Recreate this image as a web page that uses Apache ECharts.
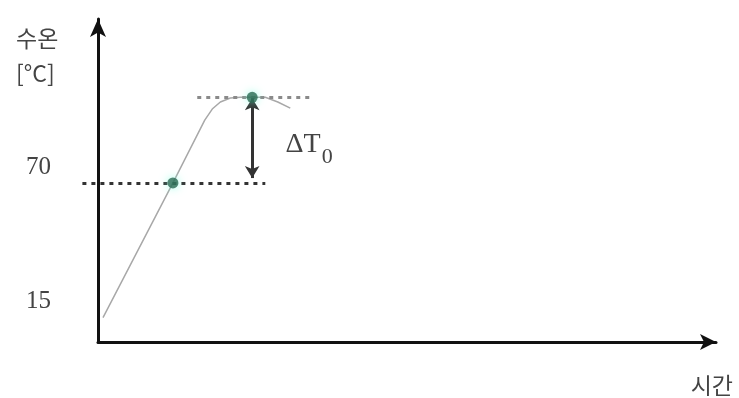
<!DOCTYPE html>
<html>
<head>
<meta charset="utf-8">
<script src="https://cdn.jsdelivr.net/npm/echarts@6/dist/echarts.min.js"></script>
<style>
  html, body { margin: 0; padding: 0; background: #fff; }
  #container { width: 739px; height: 398px; }
</style>
</head>
<body>
<div id="container"></div>
<script>
// curve: time (arbitrary units) vs water temperature
var curveTime = [0.8, 12, 17.1, 18.3, 19.6, 21.2, 22.8, 26.8, 28.8, 30.8];
var curveTemp = [15, 70, 95.7, 100.2, 103.1, 104.7, 105, 105, 103.1, 100.6];
// two marked points
var pointTime = [12, 24.7];
var pointTemp = [70, 105];
// y tick labels
var yTicks = [15, 70];
// dashed guide lines [x1, x2, y]
var guideLow = [-2.5, 26.8, 70];
var guideHigh = [15.9, 34.0, 105];
// delta arrow [x, yTop, yBottom]
var deltaArrow = [24.7, 104.6, 72];
var deltaLabelAt = [30.0, 85.5];

var yMin = 5, yMax = 137;

var curveData = [];
for (var i = 0; i < curveTime.length; i++) {
    curveData.push([curveTime[i], curveTemp[i]]);
}
var pointData = [];
for (var j = 0; j < pointTime.length; j++) {
    pointData.push([pointTime[j], pointTemp[j]]);
}

var dom = document.getElementById("container");
var myChart = echarts.init(dom);
var option = {
    animation: false,
    title: [
        {
            text: '수온\n[°C]',
            left: 11, top: 16,
            textStyle: { fontFamily: 'Noto Sans CJK KR', fontSize: 23, fontWeight: 'normal', color: '#444', lineHeight: 35 }
        },
        {
            text: '시간',
            right: 1, top: 366,
            textStyle: { fontFamily: 'Noto Sans CJK KR', fontSize: 23, fontWeight: 'normal', color: '#444', lineHeight: 28 }
        }
    ],
    grid: [
        { left: 82.4, right: 23, top: 19, bottom: 56 },
        { left: 98, right: 23, top: 19, bottom: 56 }
    ],
    xAxis: [
        { type: 'value', gridIndex: 0, min: -2.5, max: 99, show: false },
        {
            type: 'value', gridIndex: 1, min: 0, max: 99,
            axisLine: { show: true, onZero: false, symbol: ['none', 'arrow'], symbolSize: [12, 16], lineStyle: { color: '#111', width: 3 } },
            axisTick: { show: false }, axisLabel: { show: false }, splitLine: { show: false }
        }
    ],
    yAxis: [
        { type: 'value', gridIndex: 0, min: yMin, max: yMax, show: false },
        {
            type: 'value', gridIndex: 1, min: yMin, max: yMax,
            axisLine: { show: true, symbol: ['none', 'arrow'], symbolSize: [12, 18], lineStyle: { color: '#111', width: 3 } },
            axisTick: { show: false }, splitLine: { show: false },
            axisLabel: {
                customValues: yTicks,
                margin: 47,
                fontFamily: 'Liberation Serif', fontSize: 25, color: '#444',
                verticalAlign: 'bottom',
                lineHeight: 32
            }
        }
    ],
    series: [
        {
            name: 'curve',
            type: 'line',
            xAxisIndex: 0, yAxisIndex: 0,
            data: curveData,
            symbol: 'none',
            lineStyle: { color: '#a8a8a8', width: 1.5 },
            markLine: {
                silent: true,
                symbol: ['none', 'none'],
                label: { show: false },
                data: [
                    [
                        { coord: [guideLow[0], guideLow[2]], lineStyle: { color: '#333', width: 3, type: [4, 5] } },
                        { coord: [guideLow[1], guideLow[2]] }
                    ],
                    [
                        { coord: [guideHigh[0], guideHigh[2]], lineStyle: { color: '#8a8a8a', width: 3, type: [4, 5] } },
                        { coord: [guideHigh[1], guideHigh[2]] }
                    ]
                ]
            }
        },
        {
            name: 'points',
            type: 'scatter',
            xAxisIndex: 0, yAxisIndex: 0,
            data: pointData,
            symbolSize: 11,
            z: 5,
            itemStyle: { color: '#2b6a52', shadowColor: 'rgba(110,255,220,0.8)', shadowBlur: 8 },
            markLine: {
                silent: true,
                symbol: ['arrow', 'arrow'],
                symbolSize: [11, 12],
                label: { show: false },
                lineStyle: { color: '#333', width: 3, type: 'solid' },
                data: [
                    [
                        { coord: [deltaArrow[0], deltaArrow[1]] },
                        { coord: [deltaArrow[0], deltaArrow[2]] }
                    ]
                ]
            },
            markPoint: {
                silent: true,
                symbolSize: 1,
                itemStyle: { color: 'rgba(0,0,0,0)' },
                label: {
                    show: true,
                    position: 'right',
                    distance: 0,
                    formatter: '{a|ΔT}{b|0}',
                    rich: {
                        a: { fontFamily: 'Liberation Serif', fontSize: 28, color: '#444', lineHeight: 30 },
                        b: { fontFamily: 'Liberation Serif', fontSize: 22, color: '#444', padding: [26, 0, 0, 1] }
                    }
                },
                data: [{ coord: deltaLabelAt }]
            }
        }
    ]
};
if (option && typeof option === "object") {
    myChart.setOption(option, true);
}
</script>
</body>
</html>
